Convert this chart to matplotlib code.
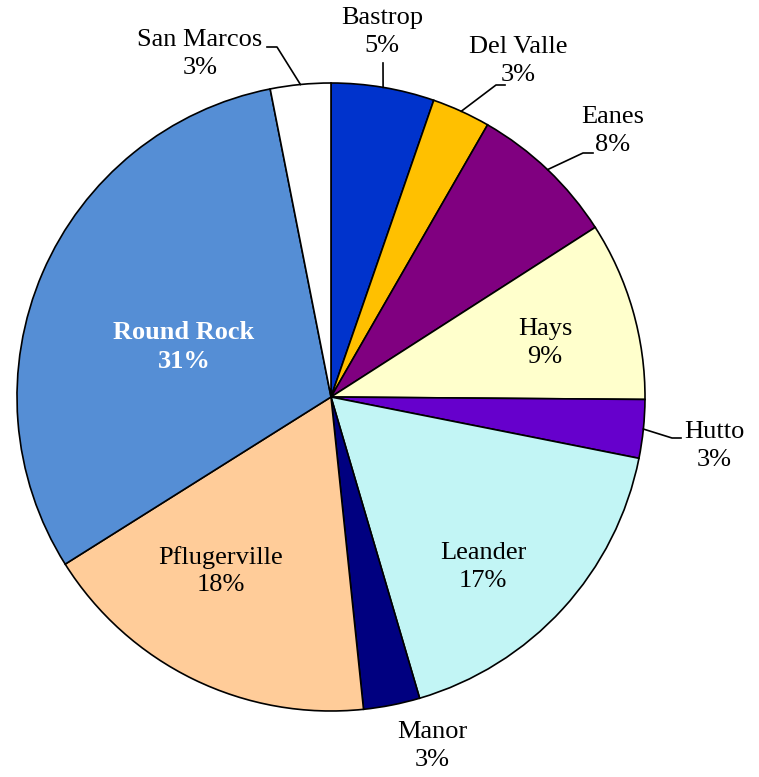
import numpy as np
import matplotlib
matplotlib.use('Agg')
import matplotlib.pyplot as plt

# districts, clockwise from 12 o'clock
districts = ['Bastrop', 'Del Valle', 'Eanes', 'Hays', 'Hutto', 'Leander',
             'Manor', 'Pflugerville', 'Round Rock', 'San Marcos']
shares = [5.3, 3.0, 7.6, 9.2, 3.0, 17.3, 2.9, 17.7, 30.8, 3.1]
colors = ['#0033CC', '#FFC000', '#800080', '#FFFFCC', '#6600CC', '#C2F5F5',
          '#000080', '#FFCC99', '#558ED5', '#FFFFFF']

W, H = 759, 777
cx, cy, R = 331, 397, 314   # pie centre / radius in pixels

def px(x, y):
    return (x - cx) / R, (cy - y) / R

# label centres (pixels)
label_pos = {'Bastrop': (382, 32), 'Del Valle': (518, 61), 'Eanes': (613, 131),
             'Hays': (545, 343), 'Hutto': (714, 446), 'Leander': (483, 567),
             'Manor': (432, 746), 'Pflugerville': (221, 571),
             'Round Rock': (184, 347), 'San Marcos': (200, 54)}
# leader lines: elbow point, end point (pixels)
leaders = {'San Marcos': ((277, 47), (267, 47)),
           'Bastrop': ((383, 63), (383, 63)),
           'Del Valle': ((496, 85), (505, 85)),
           'Eanes': ((583, 153), (593, 153)),
           'Hutto': ((672, 438), (681, 438))}

plt.rcParams['font.family'] = ['Liberation Serif', 'DejaVu Serif']

fig = plt.figure(figsize=(W / 100, H / 100), dpi=100)
ax = fig.add_axes([0, 0, 1, 1])

wedges, _ = ax.pie(shares, colors=colors, startangle=90, counterclock=False,
                   radius=1.0, center=(0, 0),
                   wedgeprops=dict(edgecolor='black', linewidth=1.2))
ax.set_xlim(-cx / R, (W - cx) / R)
ax.set_ylim(-(H - cy) / R, cy / R)
ax.set_aspect('equal')
ax.axis('off')

total = sum(shares)
for w, name, val in zip(wedges, districts, shares):
    txt = '%s\n%d%%' % (name, round(val / total * 100))
    x, y = px(*label_pos[name])
    bold = name == 'Round Rock'
    ax.text(x, y, txt, ha='center', va='center', fontsize=19,
            linespacing=1.35, color='white' if bold else 'black',
            fontweight='bold' if bold else 'normal')
    if name in leaders:
        mid = np.deg2rad((w.theta1 + w.theta2) / 2)
        ex, ey = np.cos(mid), np.sin(mid)
        (ax1, ay1), (ax2, ay2) = px(*leaders[name][0]), px(*leaders[name][1])
        ax.plot([ex, ax1, ax2], [ey, ay1, ay2], color='black', lw=1.2)

fig.savefig('out.png', dpi=100)
